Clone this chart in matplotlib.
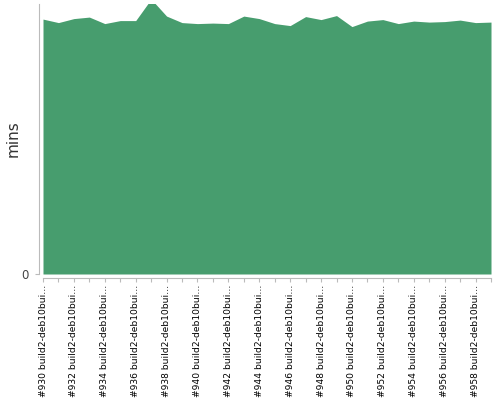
import matplotlib.pyplot as plt

# ---- DATA ----
builds = list(range(930, 960))
labels = ["#%d build2-deb10bui…" % b for b in builds]
mins = [51.0, 50.3, 51.1, 51.4, 50.1, 50.7, 50.7, 55.0, 51.6, 50.3,
        50.1, 50.2, 50.1, 51.6, 51.1, 50.1, 49.7, 51.5, 50.9, 51.7,
        49.5, 50.6, 50.9, 50.1, 50.6, 50.4, 50.5, 50.8, 50.3, 50.4]
y_top = 54.1

GREEN = "#479d6e"
AXIS = "#bbbbbb"

# ---- PLOT ----
fig = plt.figure(figsize=(5, 4), dpi=100)
ax = fig.add_axes([0.086, 0.315, 0.896, 0.676])

x = list(range(len(mins)))
ax.fill_between(x, 0, mins, color=GREEN, linewidth=0)
ax.set_xlim(0, len(mins) - 1)
ax.set_ylim(0, y_top)

# axes pushed out a bit from the area, like the original
for side in ("top", "right"):
    ax.spines[side].set_visible(False)
ax.spines["left"].set_position(("outward", 3))
ax.spines["bottom"].set_position(("outward", 3))
ax.spines["left"].set_color(AXIS)
ax.spines["bottom"].set_color(AXIS)

ax.set_yticks([0])
ax.set_yticklabels(["0"], fontsize=8.5, color="#444444")
ax.tick_params(axis="y", length=3, width=0.8, color=AXIS, pad=4)

ax.set_xticks(x)
ax.set_xticklabels([lab if i % 2 == 0 else "" for i, lab in enumerate(labels)],
                   rotation=90, fontsize=6.6, color="#000000")
ax.tick_params(axis="x", length=3, width=0.8, color=AXIS, pad=2)

ax.set_ylabel("mins", fontsize=11, color="#333333", labelpad=1)

fig.savefig("out.png", dpi=100)
